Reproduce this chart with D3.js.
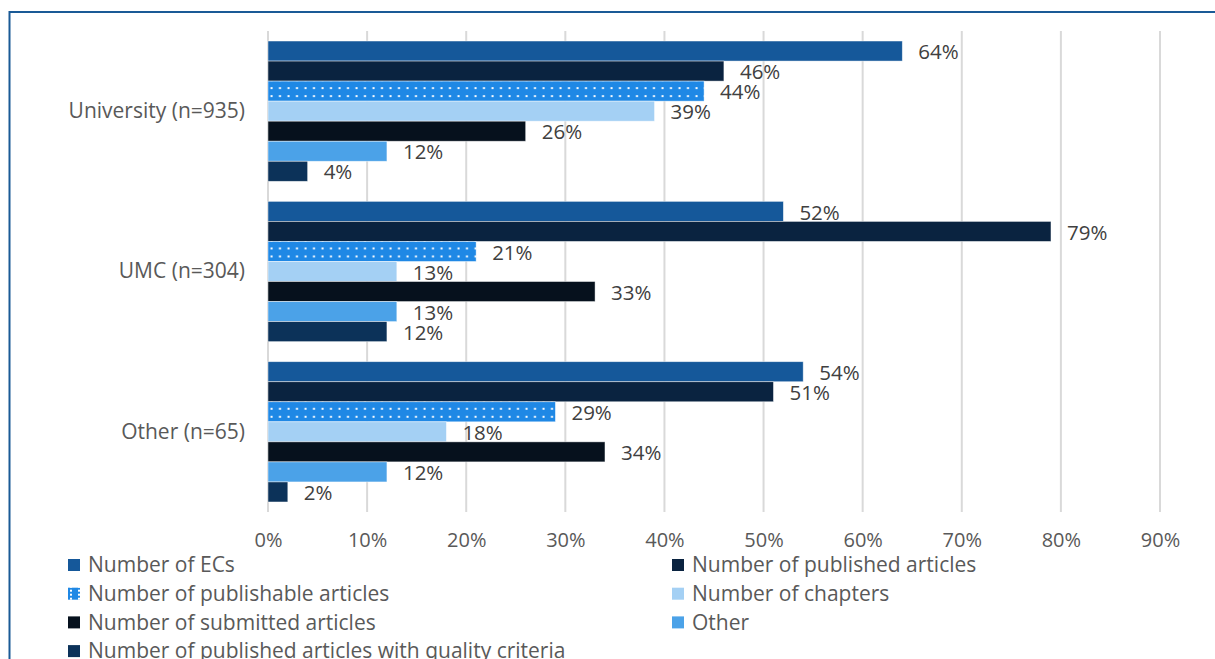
<!DOCTYPE html>
<html>
<head>
<meta charset="utf-8">
<script src="https://cdn.jsdelivr.net/npm/d3@7"></script>
<style>
  html, body { margin: 0; padding: 0; background: #fff; }
  svg { display: block; }
  text { font-family: "Open Sans", Lato, sans-serif; }
</style>
</head>
<body>
<svg id="chart" width="1215" height="659"></svg>
<script>
// Institution groups (top to bottom)
const categories = ["University (n=935)", "UMC (n=304)", "Other (n=65)"];

// Output measures, in drawing order within each group
const seriesNames = [
  "Number of ECs",
  "Number of published articles",
  "Number of publishable articles",
  "Number of chapters",
  "Number of submitted articles",
  "Other",
  "Number of published articles with quality criteria"
];

// Percentages per series, one value per category
const ecs             = [64, 52, 54];
const published       = [46, 79, 51];
const publishable     = [44, 21, 29];
const chapters        = [39, 13, 18];
const submitted       = [26, 33, 34];
const otherOutput     = [12, 13, 12];
const qualityCriteria = [4, 12, 2];

const seriesValues = [ecs, published, publishable, chapters, submitted, otherOutput, qualityCriteria];

// Axis ticks
const tickValues = [0, 10, 20, 30, 40, 50, 60, 70, 80, 90];

const colors = ["#15589a", "#0a2340", "#1f88e5", "#a4d0f4", "#06111d", "#4ba2e8", "#0c3259"];

const svg = d3.select("#chart");

// Outer frame
svg.append("rect")
  .attr("x", 9.5).attr("y", 12)
  .attr("width", 1260).attr("height", 700)
  .attr("fill", "none")
  .attr("stroke", "#1a5a96")
  .attr("stroke-width", 2);

const margin = { left: 268, right: 1160, top: 31, bottom: 512 };

const x = d3.scaleLinear().domain([0, 90]).range([margin.left, margin.right]);

const y0 = d3.scaleBand()
  .domain(categories)
  .range([margin.top, margin.bottom])
  .paddingInner(0.125)
  .paddingOuter(0.0625);

const y1 = d3.scaleBand()
  .domain(d3.range(seriesNames.length))
  .range([0, y0.bandwidth()]);

// Dotted fill for the publishable-articles series
const defs = svg.append("defs");
const pat = defs.append("pattern")
  .attr("id", "dots")
  .attr("patternUnits", "userSpaceOnUse")
  .attr("width", 8.5).attr("height", 8)
  .attr("x", margin.left).attr("y", y0(categories[0]) + y1(2));
pat.append("rect").attr("width", 8.5).attr("height", 8).attr("fill", colors[2]);
pat.append("rect").attr("x", 2.5).attr("y", 5).attr("width", 2).attr("height", 2).attr("fill", "#fff");

// Vertical gridlines
svg.append("g")
  .selectAll("line")
  .data(tickValues)
  .join("line")
  .attr("x1", d => x(d)).attr("x2", d => x(d))
  .attr("y1", margin.top).attr("y2", margin.bottom)
  .attr("stroke", "#d9d9d9")
  .attr("stroke-width", 2);

// Bottom axis labels
const xAxis = d3.axisBottom(x)
  .tickValues(tickValues)
  .tickFormat(d => d + "%")
  .tickSize(0)
  .tickPadding(0);

const ax = svg.append("g")
  .attr("transform", `translate(0,${margin.bottom + 21})`)
  .call(xAxis);
ax.select(".domain").remove();
ax.selectAll("text")
  .attr("dy", "0.71em")
  .attr("fill", "#595959")
  .style("font-size", "20px")
  .style("font-family", "'Open Sans', sans-serif");

// Category labels on the left
const yAxis = d3.axisLeft(y0).tickSize(0).tickPadding(23);
const ay = svg.append("g")
  .attr("transform", `translate(${margin.left},0)`)
  .call(yAxis);
ay.select(".domain").remove();
ay.selectAll("text")
  .attr("fill", "#595959")
  .style("font-size", "21px")
  .style("font-family", "'Open Sans', sans-serif");

// Bars
const groups = svg.append("g")
  .selectAll("g")
  .data(categories)
  .join("g")
  .attr("transform", c => `translate(0,${y0(c)})`);

const rows = groups.selectAll("g.bar")
  .data((c, ci) => seriesValues.map((vals, si) => ({ si, v: vals[ci] })))
  .join("g")
  .attr("class", "bar");

rows.append("rect")
  .attr("x", x(0))
  .attr("y", d => y1(d.si))
  .attr("width", d => x(d.v) - x(0))
  .attr("height", y1.bandwidth())
  .attr("fill", d => d.si === 2 ? "url(#dots)" : colors[d.si])
  .attr("stroke", "rgba(255,255,255,0.6)")
  .attr("stroke-width", 0.75);

rows.append("text")
  .attr("x", d => x(d.v) + 16)
  .attr("y", d => y1(d.si) + y1.bandwidth() / 2 + 1)
  .attr("dy", "0.35em")
  .attr("fill", "#404040")
  .style("font-size", "20.5px")
  .text(d => d.v + "%");

// Legend: two columns
const lp = defs.append("pattern")
  .attr("id", "legdots")
  .attr("patternUnits", "userSpaceOnUse")
  .attr("width", 8).attr("height", 8)
  .attr("x", 68).attr("y", 0);
lp.append("rect").attr("width", 8).attr("height", 8).attr("fill", colors[2]);
lp.append("rect").attr("x", 6).attr("y", 0).attr("width", 2).attr("height", 2).attr("fill", "#fff");
lp.append("rect").attr("x", 6).attr("y", 4).attr("width", 2).attr("height", 2).attr("fill", "#fff");

const legend = svg.append("g");
const legendItems = legend.selectAll("g")
  .data(seriesNames)
  .join("g")
  .attr("transform", (d, i) => {
    const col = i % 2;
    const row = Math.floor(i / 2);
    return `translate(${col === 0 ? 68 : 672},${565 + row * 28.7})`;
  });

legendItems.append("rect")
  .attr("x", 0).attr("y", -6)
  .attr("width", 12).attr("height", 12)
  .attr("fill", (d, i) => i === 2 ? "url(#legdots)" : colors[i]);

legendItems.append("text")
  .attr("x", 20)
  .attr("y", 0)
  .attr("dy", "0.35em")
  .attr("fill", "#595959")
  .style("font-size", "21px")
  .text(d => d);
</script>
</body>
</html>
